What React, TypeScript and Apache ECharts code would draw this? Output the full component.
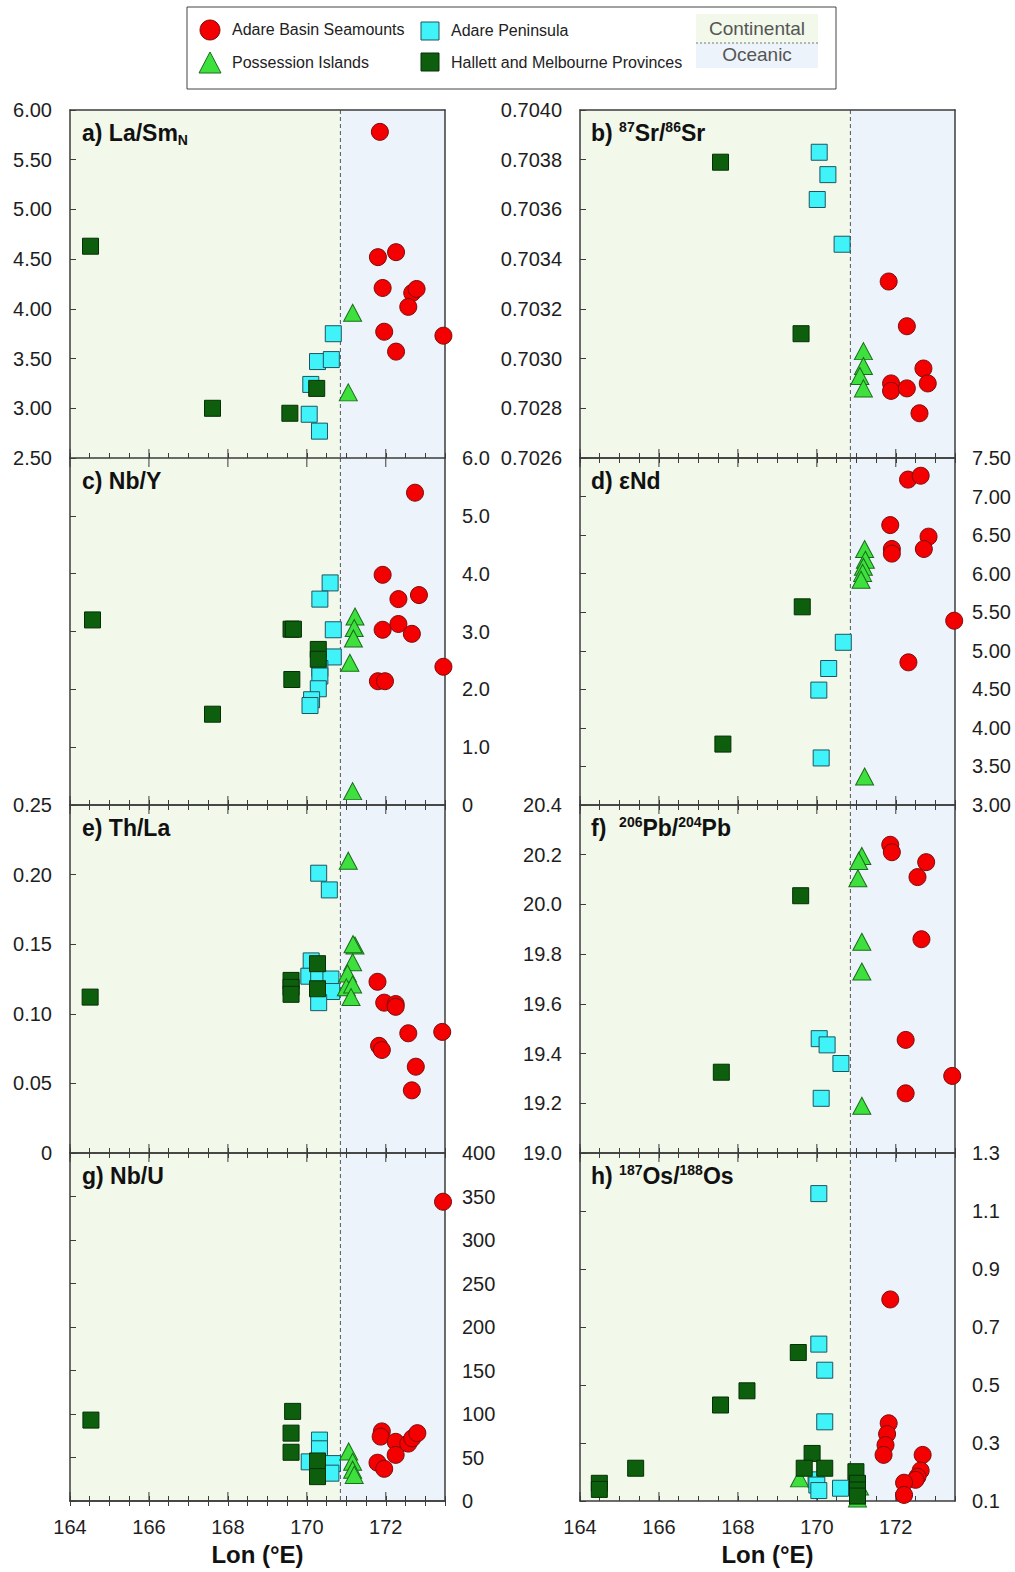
import React, { useEffect, useRef } from "react";
import * as echarts from "echarts";

// ---------------- data ----------------
const lonMin = 164;
const lonMax = 173.5;
const boundaryLon = 170.85;
const majorLon = [164, 166, 168, 170, 172];

const groupNames = ["Adare Peninsula", "Possession Islands", "Hallett and Melbourne Provinces", "Adare Basin Seamounts"];

// a) La/Sm_N
const laSmSeamounts = [[171.85, 5.78], [171.80, 4.52], [172.26, 4.57], [171.92, 4.21], [172.67, 4.16], [172.78, 4.20], [172.57, 4.02], [171.96, 3.77], [172.26, 3.57], [173.46, 3.73]];
const laSmPossession = [[171.16, 3.96], [171.05, 3.16]];
const laSmPeninsula = [[170.67, 3.75], [170.27, 3.47], [170.62, 3.49], [170.10, 3.24], [170.06, 2.94], [170.32, 2.77]];
const laSmHallett = [[164.52, 4.63], [167.61, 3.00], [169.57, 2.95], [170.25, 3.20]];

// b) 87Sr/86Sr
const srSeamounts = [[171.82, 0.70331], [172.28, 0.70313], [172.70, 0.70296], [171.88, 0.70290], [171.88, 0.70287], [172.28, 0.70288], [172.81, 0.70290], [172.60, 0.70278]];
const srPossession = [[171.18, 0.70303], [171.18, 0.70297], [171.09, 0.70293], [171.18, 0.70288]];
const srPeninsula = [[170.06, 0.70383], [170.28, 0.70374], [170.01, 0.70364], [170.64, 0.70346]];
const srHallett = [[167.56, 0.70379], [169.60, 0.70310]];

// c) Nb/Y
const nbYSeamounts = [[172.74, 5.40], [171.92, 3.98], [172.32, 3.56], [172.84, 3.63], [171.92, 3.03], [172.32, 3.13], [172.66, 2.96], [171.80, 2.14], [171.98, 2.14], [173.46, 2.39]];
const nbYPossession = [[171.22, 3.26], [171.20, 3.06], [171.18, 2.88], [171.09, 2.46], [171.16, 0.24]];
const nbYPeninsula = [[170.59, 3.84], [170.33, 3.56], [170.67, 3.03], [170.67, 2.56], [170.33, 2.36], [170.33, 2.23], [170.29, 2.01], [170.12, 1.82], [170.08, 1.72]];
const nbYHallett = [[164.57, 3.20], [169.60, 3.04], [169.66, 3.04], [170.29, 2.69], [170.29, 2.52], [169.62, 2.17], [167.61, 1.57]];

// d) eNd
const ndSeamounts = [[172.31, 7.22], [172.63, 7.27], [171.86, 6.63], [172.83, 6.48], [171.90, 6.32], [171.90, 6.26], [172.71, 6.32], [173.48, 5.39], [172.32, 4.85]];
const ndPossession = [[171.21, 6.32], [171.23, 6.18], [171.18, 6.09], [171.16, 6.01], [171.12, 5.92], [171.21, 3.37]];
const ndPeninsula = [[170.67, 5.11], [170.30, 4.77], [170.05, 4.49], [170.11, 3.61]];
const ndHallett = [[169.63, 5.57], [167.62, 3.79]];

// e) Th/La
const thSeamounts = [[171.79, 0.123], [171.96, 0.108], [172.25, 0.107], [172.25, 0.105], [172.57, 0.086], [173.43, 0.087], [171.83, 0.077], [171.90, 0.074], [172.76, 0.062], [172.66, 0.045]];
const thPossession = [[171.05, 0.210], [171.22, 0.149], [171.17, 0.150], [171.16, 0.137], [171.03, 0.129], [171.00, 0.119], [171.16, 0.121], [171.12, 0.112]];
const thPeninsula = [[170.30, 0.201], [170.57, 0.189], [170.11, 0.138], [170.05, 0.127], [170.30, 0.125], [170.61, 0.125], [170.63, 0.116], [170.30, 0.108]];
const thHallett = [[164.51, 0.112], [169.60, 0.124], [169.60, 0.119], [169.60, 0.114], [170.27, 0.136], [170.27, 0.118]];

// f) 206Pb/204Pb
const pbSeamounts = [[171.86, 20.24], [171.90, 20.21], [172.77, 20.17], [172.55, 20.11], [172.65, 19.86], [172.25, 19.455], [173.43, 19.31], [172.25, 19.24]];
const pbPossession = [[171.14, 20.195], [171.06, 20.175], [171.04, 20.105], [171.14, 19.85], [171.14, 19.73], [171.14, 19.19]];
const pbPeninsula = [[170.06, 19.46], [170.26, 19.435], [170.61, 19.36], [170.11, 19.22]];
const pbHallett = [[169.59, 20.035], [167.58, 19.325]];

// g) Nb/U
const nbUSeamounts = [[173.45, 344], [171.90, 80], [171.87, 74], [172.25, 68], [172.57, 66], [172.67, 72], [172.80, 78], [172.25, 53], [171.79, 44], [171.96, 37]];
const nbUPossession = [[171.06, 57], [171.16, 45], [171.16, 36], [171.20, 30]];
const nbUPeninsula = [[170.32, 70], [170.32, 60], [170.06, 45], [170.65, 43], [170.61, 32]];
const nbUHallett = [[164.53, 93], [169.64, 103], [169.60, 78], [169.60, 56], [170.27, 46], [170.27, 28]];

// h) 187Os/188Os
const osSeamounts = [[171.86, 0.795], [171.82, 0.368], [171.78, 0.331], [171.74, 0.293], [171.69, 0.259], [172.68, 0.259], [172.63, 0.205], [172.55, 0.184], [172.50, 0.173], [172.21, 0.163], [172.21, 0.121]];
const osPossession = [[169.56, 0.178], [171.03, 0.109], [171.08, 0.150]];
const osPeninsula = [[170.05, 1.160], [170.05, 0.641], [170.20, 0.551], [170.20, 0.373], [169.98, 0.173], [170.00, 0.155], [170.05, 0.136], [170.60, 0.144]];
const osHallett = [[169.53, 0.612], [168.23, 0.480], [167.56, 0.431], [169.88, 0.264], [169.68, 0.213], [170.20, 0.213], [165.41, 0.213], [164.49, 0.161], [164.49, 0.140], [170.99, 0.201], [171.03, 0.161], [171.03, 0.138], [171.03, 0.117]];

// ---------------- layout / style ----------------
const FONT = "Liberation Sans, Arial, Helvetica, sans-serif";
const AXIS_COLOR = "#3c3c3c";
const TEXT_COLOR = "#1e1e1e";
const GRID_LEFT = [70, 580];
const GRID_W = 375;
const ROW_TOP = [110, 458, 805, 1153];
const ROW_H = [348, 347, 348, 348];
const GREEN_BG = "#f2f8ea";
const BLUE_BG = "#edf3fa";
const TICK_FONT = 20;

const groupStyles: any[] = [
  { symbol: "rect", size: 16, color: "#3ff3f8", border: "#1c5662" },
  { symbol: "triangle", size: [18, 17], color: "#3ee03e", border: "#1a6d1a" },
  { symbol: "rect", size: 16, color: "#0d5f0d", border: "#043004" },
  { symbol: "circle", size: 17, color: "#f40000", border: "#7b0c0c" },
];

type Panel = {
  col: number; row: number; min: number; max: number; interval: number;
  side: "left" | "right"; fmt: (v: number) => string; title: string; groups: number[][][];
};

const panels: Panel[] = [
  { col: 0, row: 0, min: 2.5, max: 6, interval: 0.5, side: "left", fmt: (v) => v.toFixed(2), title: "{b|a) La/Sm}{sub|N}", groups: [laSmPeninsula, laSmPossession, laSmHallett, laSmSeamounts] },
  { col: 1, row: 0, min: 0.7026, max: 0.7040, interval: 0.0002, side: "left", fmt: (v) => v.toFixed(4), title: "{b|b) }{sup|87}{b|Sr/}{sup|86}{b|Sr}", groups: [srPeninsula, srPossession, srHallett, srSeamounts] },
  { col: 0, row: 1, min: 0, max: 6, interval: 1, side: "right", fmt: (v) => (Math.abs(v) < 1e-9 ? "0" : v.toFixed(1)), title: "{b|c) Nb/Y}", groups: [nbYPeninsula, nbYPossession, nbYHallett, nbYSeamounts] },
  { col: 1, row: 1, min: 3, max: 7.5, interval: 0.5, side: "right", fmt: (v) => v.toFixed(2), title: "{b|d) εNd}", groups: [ndPeninsula, ndPossession, ndHallett, ndSeamounts] },
  { col: 0, row: 2, min: 0, max: 0.25, interval: 0.05, side: "left", fmt: (v) => (Math.abs(v) < 1e-9 ? "0" : v.toFixed(2)), title: "{b|e) Th/La}", groups: [thPeninsula, thPossession, thHallett, thSeamounts] },
  { col: 1, row: 2, min: 19, max: 20.4, interval: 0.2, side: "left", fmt: (v) => v.toFixed(1), title: "{b|f)  }{sup|206}{b|Pb/}{sup|204}{b|Pb}", groups: [pbPeninsula, pbPossession, pbHallett, pbSeamounts] },
  { col: 0, row: 3, min: 0, max: 400, interval: 50, side: "right", fmt: (v) => String(Math.round(v)), title: "{b|g) Nb/U}", groups: [nbUPeninsula, nbUPossession, nbUHallett, nbUSeamounts] },
  { col: 1, row: 3, min: 0.1, max: 1.3, interval: 0.2, side: "right", fmt: (v) => v.toFixed(1), title: "{b|h) }{sup|187}{b|Os/}{sup|188}{b|Os}", groups: [osPeninsula, osPossession, osHallett, osSeamounts] },
];

function buildOption(): any {
  const grid: any[] = [];
  const xAxis: any[] = [];
  const yAxis: any[] = [];
  const series: any[] = [];
  const graphics: any[] = [];

  const titleRich = {
    b: { fontSize: 23, fontWeight: "bold", fontFamily: FONT, fill: "#111", lineHeight: 27 },
    sup: { fontSize: 14, fontWeight: "bold", fontFamily: FONT, fill: "#111", verticalAlign: "top", lineHeight: 15 },
    sub: { fontSize: 14, fontWeight: "bold", fontFamily: FONT, fill: "#111", verticalAlign: "bottom", lineHeight: 15 },
  };

  panels.forEach((p, i) => {
    const left = GRID_LEFT[p.col];
    const top = ROW_TOP[p.row];
    const h = ROW_H[p.row];
    grid.push({ left, top, width: GRID_W, height: h, containLabel: false });

    const lineStyle = { color: AXIS_COLOR, width: 1.5 };
    xAxis.push({
      type: "value", gridIndex: i, position: "bottom", min: lonMin, max: lonMax, interval: 0.5, z: 3,
      axisLine: { show: true, lineStyle },
      axisTick: { show: true, inside: true, length: 5, lineStyle: { color: AXIS_COLOR, width: 1 } },
      axisLabel: {
        show: p.row === 3, fontSize: TICK_FONT, color: TEXT_COLOR, fontFamily: FONT, margin: 16,
        showMinLabel: true, showMaxLabel: true,
        formatter: (v: number) => (Math.abs(v % 2) < 1e-6 && Math.abs(v - Math.round(v)) < 1e-6 ? String(v) : ""),
      },
      splitLine: { show: false },
    });
    xAxis.push({
      type: "value", gridIndex: i, position: "top", min: lonMin, max: lonMax, interval: 0.5, z: 3,
      axisLine: { show: true, lineStyle },
      axisTick: { show: p.row > 0, inside: true, length: 5, lineStyle: { color: AXIS_COLOR, width: 1 } },
      axisLabel: { show: false },
      splitLine: { show: false },
    });
    yAxis.push({
      type: "value", gridIndex: i, position: "left", min: p.min, max: p.max, interval: p.interval, z: 3,
      axisLine: { show: true, lineStyle },
      axisTick: { show: true, inside: true, length: 6, lineStyle: { color: AXIS_COLOR, width: 1 } },
      axisLabel: {
        show: p.side === "left", fontSize: TICK_FONT, color: TEXT_COLOR, fontFamily: FONT, margin: 18,
        showMinLabel: true, showMaxLabel: true, formatter: p.fmt,
      },
      splitLine: { show: false },
    });
    yAxis.push({
      type: "value", gridIndex: i, position: "right", min: p.min, max: p.max, interval: p.interval, z: 3,
      axisLine: { show: true, lineStyle },
      axisTick: { show: false },
      axisLabel: {
        show: p.side === "right", fontSize: TICK_FONT, color: TEXT_COLOR, fontFamily: FONT, margin: 17,
        showMinLabel: true, showMaxLabel: true, formatter: p.fmt,
      },
      splitLine: { show: false },
    });

    series.push({
      type: "custom", xAxisIndex: 2 * i, yAxisIndex: 2 * i, z: 1, silent: true, clip: false,
      data: [[boundaryLon, p.min]],
      renderItem: (params: any, api: any) => {
        const cs = params.coordSys;
        const x0 = cs.x, x1 = cs.x + cs.width, y0 = cs.y, y1 = cs.y + cs.height;
        const xb = api.coord([boundaryLon, p.min])[0];
        const children: any[] = [
          { type: "rect", shape: { x: x0, y: y0, width: xb - x0, height: y1 - y0 }, style: { fill: GREEN_BG } },
          { type: "rect", shape: { x: xb, y: y0, width: x1 - xb, height: y1 - y0 }, style: { fill: BLUE_BG } },
          { type: "line", shape: { x1: xb, y1: y0, x2: xb, y2: y1 }, style: { stroke: "#555", lineWidth: 1, lineDash: [4, 3] } },
        ];
        majorLon.forEach((l) => {
          const x = api.coord([l, p.min])[0];
          children.push({ type: "line", shape: { x1: x, y1: y1, x2: x, y2: y1 - 9 }, style: { stroke: AXIS_COLOR, lineWidth: 1 } });
          if (p.row > 0) {
            children.push({ type: "line", shape: { x1: x, y1: y0, x2: x, y2: y0 + 9 }, style: { stroke: AXIS_COLOR, lineWidth: 1 } });
          }
        });
        return { type: "group", children };
      },
    });

    p.groups.forEach((g, gi) => {
      const st = groupStyles[gi];
      series.push({
        type: "scatter", name: groupNames[gi], xAxisIndex: 2 * i, yAxisIndex: 2 * i, z: 5 + gi, clip: false,
        symbol: st.symbol, symbolSize: st.size, data: g,
        itemStyle: { color: st.color, borderColor: st.border, borderWidth: 1, opacity: 1 },
      });
    });

    graphics.push({
      type: "text", z: 20, x: left + (p.col === 0 ? 12 : 11), y: top + 23,
      style: { text: p.title, rich: titleRich, verticalAlign: "middle", align: "left", fontFamily: FONT },
    });
  });

  [0, 1].forEach((c) => {
    graphics.push({
      type: "text", z: 20, x: GRID_LEFT[c] + GRID_W / 2, y: 1554,
      style: { text: "Lon (°E)", fontSize: 24, fontWeight: "bold", fontFamily: FONT, fill: "#111", align: "center", verticalAlign: "middle" },
    });
  });

  const lf = { fontSize: 16, fontFamily: FONT, fill: "#222", verticalAlign: "middle", align: "left" };
  graphics.push({ type: "rect", z: 20, shape: { x: 187, y: 7, width: 649, height: 82 }, style: { fill: "#ffffff", stroke: "#444", lineWidth: 1 } });
  graphics.push({ type: "circle", z: 21, shape: { cx: 210, cy: 30, r: 10 }, style: { fill: "#f40000", stroke: "#7b0c0c", lineWidth: 1 } });
  graphics.push({ type: "text", z: 21, x: 232, y: 29, style: { ...lf, text: groupNames[3] } });
  graphics.push({ type: "polygon", z: 21, shape: { points: [[199, 73], [221, 73], [210, 52]] }, style: { fill: "#3ee03e", stroke: "#1a6d1a", lineWidth: 1 } });
  graphics.push({ type: "text", z: 21, x: 232, y: 62, style: { ...lf, text: groupNames[1] } });
  graphics.push({ type: "rect", z: 21, shape: { x: 421, y: 22, width: 18, height: 18 }, style: { fill: "#3ff3f8", stroke: "#1c5662", lineWidth: 1 } });
  graphics.push({ type: "text", z: 21, x: 451, y: 30, style: { ...lf, text: groupNames[0] } });
  graphics.push({ type: "rect", z: 21, shape: { x: 421, y: 53, width: 18, height: 18 }, style: { fill: "#0d5f0d", stroke: "#043004", lineWidth: 1 } });
  graphics.push({ type: "text", z: 21, x: 451, y: 62, style: { ...lf, text: groupNames[2] } });
  graphics.push({ type: "rect", z: 21, shape: { x: 696, y: 14, width: 122, height: 29 }, style: { fill: GREEN_BG } });
  graphics.push({ type: "rect", z: 21, shape: { x: 696, y: 43, width: 122, height: 25 }, style: { fill: BLUE_BG } });
  graphics.push({ type: "line", z: 22, shape: { x1: 696, y1: 43, x2: 818, y2: 43 }, style: { stroke: "#777", lineWidth: 1, lineDash: [2, 2] } });
  graphics.push({ type: "text", z: 22, x: 757, y: 28, style: { text: "Continental", fontSize: 19, fontFamily: FONT, fill: "#555", align: "center", verticalAlign: "middle" } });
  graphics.push({ type: "text", z: 22, x: 757, y: 54, style: { text: "Oceanic", fontSize: 19, fontFamily: FONT, fill: "#555", align: "center", verticalAlign: "middle" } });

  return {
    animation: false,
    backgroundColor: "#ffffff",
    textStyle: { fontFamily: FONT },
    grid,
    xAxis,
    yAxis,
    series,
    graphic: { elements: graphics },
  };
}

export default function App() {
  const ref = useRef<HTMLDivElement>(null);
  useEffect(() => {
    if (!ref.current) return;
    const chart = echarts.init(ref.current, undefined, { renderer: "svg", width: 1015, height: 1572 });
    chart.setOption(buildOption());
    return () => chart.dispose();
  }, []);
  return <div ref={ref} style={{ position: "absolute", left: 0, top: 0, width: 1015, height: 1572 }} />;
}
